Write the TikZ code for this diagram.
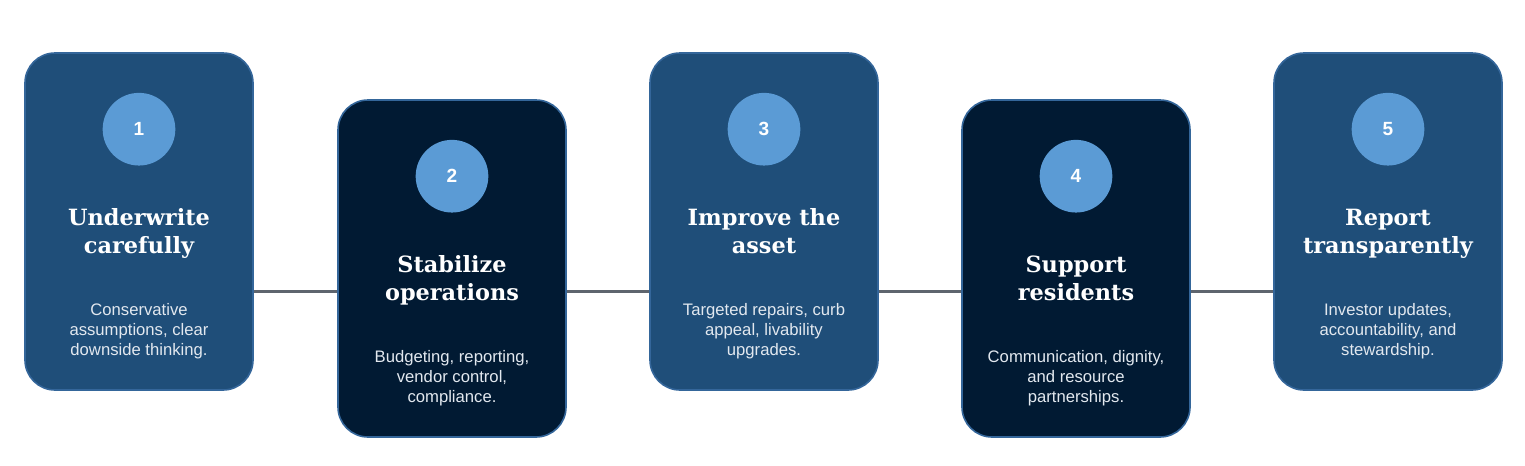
\documentclass[tikz,border=0pt]{standalone}
\usepackage{fontspec}
\setmainfont{Liberation Sans}
\newfontfamily\headfont{DejaVu Serif}
\usetikzlibrary{positioning,backgrounds}

\definecolor{cardblue}{HTML}{1F4E79}
\definecolor{cardnavy}{HTML}{011A33}
\definecolor{cardedge}{HTML}{34669A}
\definecolor{dotblue}{HTML}{5B9BD5}
\definecolor{linkgray}{HTML}{5E656E}
\definecolor{bodygray}{HTML}{E2E8EF}

\tikzset{
  card/.style={draw=cardedge, line width=1.2pt, rounded corners=22.5pt,
    minimum width=171pt, minimum height=252.75pt, inner sep=0pt},
  light/.style={card, fill=cardblue},
  dark/.style={card, fill=cardnavy},
  num/.style={circle, fill=dotblue, minimum size=54.5pt, inner sep=0pt,
    text=white, font=\fontsize{14.3}{16}\selectfont\bfseries},
  head/.style={align=center, text=white, inner sep=0pt, anchor=base,
    font=\headfont\fontsize{16.8}{20.7}\selectfont\bfseries},
  body/.style={align=center, text=bodygray, inner sep=0pt, anchor=base,
    font=\fontsize{12.5}{15}\selectfont},
  link/.style={draw=linkgray, line width=2.25pt}
}

\begin{document}
\begin{tikzpicture}[x=0.75pt, y=-0.75pt]
  \useasboundingbox (0,0) rectangle (1525,465);
  \coordinate (axis) at (0,291.5);

  \node[light] (c1) at (139,221.5) {};
  \node[dark]  (c2) at (452,268.5) {};
  \node[light] (c3) at (764,221.5) {};
  \node[dark]  (c4) at (1076,268.5) {};
  \node[light] (c5) at (1388,221.5) {};

  \node[num] (n1) at ([yshift=-57.75pt]c1.north) {1};
  \node[num] (n2) at ([yshift=-57.75pt]c2.north) {2};
  \node[num] (n3) at ([yshift=-57.75pt]c3.north) {3};
  \node[num] (n4) at ([yshift=-57.75pt]c4.north) {4};
  \node[num] (n5) at ([yshift=-57.75pt]c5.north) {5};

  % base anchor sits on the last line
  \node[head] (h1) at ([yshift=-151pt]c1.north) {Underwrite\\carefully};
  \node[head] (h2) at ([yshift=-151pt]c2.north) {Stabilize\\operations};
  \node[head] (h3) at ([yshift=-151pt]c3.north) {Improve the\\asset};
  \node[head] (h4) at ([yshift=-151pt]c4.north) {Support\\residents};
  \node[head] (h5) at ([yshift=-151pt]c5.north) {Report\\transparently};

  \node[body] (b1) at ([yshift=-227.8pt]c1.north) {Conservative\\assumptions, clear\\downside thinking.};
  \node[body] (b2) at ([yshift=-227.8pt]c2.north) {Budgeting, reporting,\\vendor control,\\compliance.};
  \node[body] (b3) at ([yshift=-227.8pt]c3.north) {Targeted repairs, curb\\appeal, livability\\upgrades.};
  \node[body] (b4) at ([yshift=-227.8pt]c4.north) {Communication, dignity,\\and resource\\partnerships.};
  \node[body] (b5) at ([yshift=-227.8pt]c5.north) {Investor updates,\\accountability, and\\stewardship.};

  % timeline behind the cards
  \begin{scope}[on background layer]
    \draw[link] (c1.center |- axis) -- (c5.center |- axis);
  \end{scope}
\end{tikzpicture}
\end{document}
